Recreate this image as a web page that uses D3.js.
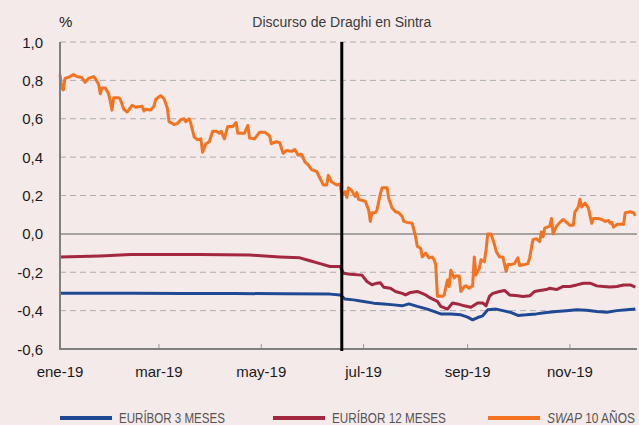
<!DOCTYPE html>
<html>
<head>
<meta charset="utf-8">
<script src="https://cdn.jsdelivr.net/npm/d3@7"></script>
<style>
    body { margin: 0; background: #f5eaea; }
    svg { display: block; font-family: "Liberation Sans", Arial, sans-serif; }
    .axis-label { font-size: 15px; fill: #1a1a1a; }
    .chart-title { font-size: 14px; fill: #3a3a3a; }
    .legend-text { font-size: 15px; fill: #555; }
</style>
</head>
<body>
<div id="sintra-chart"></div>
<script>

// Data
var yTicks = [-0.6, -0.4, -0.2, 0.0, 0.2, 0.4, 0.6, 0.8, 1.0];
var xTickDates = ['01-01', '03-01', '05-01', '07-01', '09-01', '11-01'];
var xTickLabels = ['ene-19', 'mar-19', 'may-19', 'jul-19', 'sep-19', 'nov-19'];
var eventDate = '06-18';
var eventLabel = 'Discurso de Draghi en Sintra';
var seriesNames = ['EURÍBOR 3 MESES', 'EURÍBOR 12 MESES', 'SWAP 10 AÑOS'];

var euribor3Dates = ['01-01', '02-15', '03-15', '04-15', '05-15', '06-11', '06-17', '06-20', '06-25', '07-01',
    '07-07', '07-13', '07-19', '07-24', '07-28', '08-02', '08-08', '08-16', '08-22', '08-28', '09-01', '09-04',
    '09-07', '09-10', '09-13', '09-18', '09-22', '09-27', '10-01', '10-06', '10-12', '10-18', '10-24', '10-30',
    '11-05', '11-11', '11-17', '11-23', '11-29', '12-05', '12-10'];
var euribor3Values = [-0.309, -0.310, -0.311, -0.311, -0.312, -0.314, -0.318, -0.340, -0.344, -0.352,
    -0.361, -0.365, -0.370, -0.375, -0.365, -0.378, -0.392, -0.417, -0.418, -0.422, -0.434, -0.448,
    -0.436, -0.427, -0.396, -0.392, -0.400, -0.410, -0.425, -0.422, -0.417, -0.410, -0.405, -0.401,
    -0.396, -0.398, -0.405, -0.408, -0.400, -0.396, -0.392];

var euribor12Dates = ['01-01', '01-25', '02-12', '03-25', '04-24', '05-12', '05-24', '05-30', '06-05', '06-11',
    '06-17', '06-19', '06-23', '06-30', '07-03', '07-06', '07-09', '07-11', '07-13', '07-17', '07-20', '07-24',
    '07-26', '07-29', '08-02', '08-07', '08-10', '08-14', '08-16', '08-20', '08-23', '08-26', '08-30', '09-03',
    '09-07', '09-10', '09-12', '09-14', '09-16', '09-20', '09-23', '09-26', '10-01', '10-04', '10-08', '10-11',
    '10-14', '10-18', '10-20', '10-24', '10-28', '11-01', '11-05', '11-09', '11-13', '11-17', '11-21', '11-25',
    '11-29', '12-03', '12-07', '12-10'];
var euribor12Values = [-0.120, -0.115, -0.108, -0.108, -0.110, -0.120, -0.125, -0.140, -0.155, -0.170,
    -0.170, -0.205, -0.210, -0.215, -0.248, -0.265, -0.257, -0.255, -0.278, -0.283, -0.300, -0.310,
    -0.318, -0.305, -0.300, -0.318, -0.335, -0.352, -0.378, -0.392, -0.360, -0.365, -0.375, -0.382,
    -0.360, -0.360, -0.375, -0.326, -0.310, -0.300, -0.295, -0.318, -0.323, -0.326, -0.323, -0.300,
    -0.295, -0.290, -0.283, -0.290, -0.274, -0.274, -0.266, -0.257, -0.257, -0.271, -0.274, -0.277,
    -0.274, -0.266, -0.266, -0.277];

var swapDates = ['01-01', '01-02', '01-03', '01-04', '01-07', '01-09', '01-11', '01-14', '01-16', '01-18',
    '01-21', '01-22', '01-24', '01-25', '01-26', '01-28', '01-30', '01-31', '02-01', '02-02', '02-05', '02-06',
    '02-08', '02-10', '02-13', '02-15', '02-19', '02-20', '02-21', '02-24', '02-26', '02-27', '03-02', '03-04',
    '03-06', '03-07', '03-10', '03-12', '03-14', '03-16', '03-17', '03-19', '03-20', '03-22', '03-24', '03-26',
    '03-27', '03-29', '03-31', '04-02', '04-04', '04-06', '04-07', '04-09', '04-11', '04-14', '04-16', '04-17',
    '04-21', '04-23', '04-24', '04-27', '04-30', '05-03', '05-06', '05-07', '05-10', '05-12', '05-14', '05-16',
    '05-19', '05-21', '05-23', '05-25', '05-27', '05-29', '05-31', '06-03', '06-05', '06-07', '06-09', '06-10',
    '06-12', '06-15', '06-17', '06-18', '06-20', '06-21', '06-22', '06-24', '06-26', '06-27', '06-28', '07-02',
    '07-04', '07-05', '07-06', '07-08', '07-09', '07-11', '07-12', '07-15', '07-16', '07-18', '07-20', '07-22',
    '07-24', '07-25', '07-27', '07-30', '07-31', '08-01', '08-02', '08-04', '08-05', '08-07', '08-09', '08-11',
    '08-12', '08-13', '08-14', '08-17', '08-18', '08-20', '08-21', '08-22', '08-24', '08-25', '08-27', '08-28',
    '08-30', '08-31', '09-02', '09-04', '09-05', '09-06', '09-08', '09-09', '09-11', '09-12', '09-13', '09-15',
    '09-17', '09-18', '09-20', '09-22', '09-24', '09-25', '09-27', '09-29', '10-01', '10-02', '10-05', '10-07',
    '10-08', '10-10', '10-12', '10-14', '10-15', '10-16', '10-17', '10-20', '10-21', '10-22', '10-24', '10-26',
    '10-28', '10-30', '11-01', '11-03', '11-04', '11-06', '11-07', '11-08', '11-10', '11-12', '11-14', '11-15',
    '11-18', '11-20', '11-22', '11-24', '11-25', '11-26', '11-27', '11-29', '12-03', '12-04', '12-07', '12-09',
    '12-10'];
var swapValues = [0.83, 0.76, 0.75, 0.81, 0.82, 0.83, 0.82, 0.815, 0.79, 0.81,
    0.82, 0.81, 0.78, 0.73, 0.76, 0.76, 0.73, 0.69, 0.645, 0.71, 0.71, 0.70,
    0.65, 0.635, 0.67, 0.66, 0.665, 0.64, 0.65, 0.645, 0.665, 0.70, 0.72, 0.705,
    0.655, 0.585, 0.57, 0.575, 0.595, 0.60, 0.585, 0.60, 0.575, 0.505, 0.49, 0.495,
    0.425, 0.47, 0.48, 0.535, 0.535, 0.525, 0.535, 0.495, 0.56, 0.56, 0.58, 0.525,
    0.525, 0.565, 0.50, 0.495, 0.53, 0.53, 0.51, 0.47, 0.48, 0.475, 0.42, 0.435,
    0.43, 0.44, 0.41, 0.415, 0.375, 0.36, 0.335, 0.325, 0.29, 0.255, 0.255, 0.305,
    0.27, 0.255, 0.26, 0.20, 0.22, 0.19, 0.24, 0.225, 0.195, 0.215, 0.18, 0.17,
    0.125, 0.065, 0.11, 0.11, 0.125, 0.21, 0.24, 0.24, 0.185, 0.135, 0.115, 0.11,
    0.09, 0.065, 0.06, 0.055, 0.02, -0.015, -0.065, -0.075, -0.12, -0.10, -0.125, -0.12,
    -0.135, -0.16, -0.325, -0.325, -0.32, -0.24, -0.275, -0.19, -0.23, -0.22, -0.22, -0.30,
    -0.275, -0.27, -0.283, -0.27, -0.12, -0.215, -0.18, -0.135, -0.145, -0.085, 0.0, 0.0,
    -0.055, -0.09, -0.12, -0.12, -0.195, -0.16, -0.16, -0.155, -0.125, -0.165, -0.16, -0.155,
    -0.125, -0.03, -0.025, -0.04, 0.01, -0.015, 0.03, 0.04, 0.08, 0.0, 0.04, 0.06,
    0.075, 0.06, 0.045, 0.045, 0.115, 0.14, 0.18, 0.14, 0.16, 0.135, 0.055, 0.08,
    0.08, 0.075, 0.065, 0.07, 0.055, 0.06, 0.035, 0.05, 0.05, 0.11, 0.115, 0.11,
    0.095];

var parseDate = d3.utcParse('%Y-%m-%d');
function toDate(s) { return parseDate('2019-' + s); }

function zipSeries(dates, values) {
    return dates.map(function(d, i) {
        return { date: toDate(d), value: values[i] };
    });
}

/**
 * SintraChart
 * @param _parentElement -- the HTML element in which to draw the visualization
 */
SintraChart = function(_parentElement) {
    this.parentElement = _parentElement;
    this.series = [
        { name: seriesNames[0], color: '#1f4a93', data: zipSeries(euribor3Dates, euribor3Values) },
        { name: seriesNames[1], color: '#a3283f', data: zipSeries(euribor12Dates, euribor12Values) },
        { name: seriesNames[2], color: '#f37321', data: zipSeries(swapDates, swapValues) }
    ];

    this.initVisualization();
}

SintraChart.prototype.initVisualization = function() {
    var vis = this;

    vis.margin = { top: 42, right: 2, bottom: 76, left: 60 };
    vis.width = 639 - vis.margin.left - vis.margin.right;
    vis.height = 425 - vis.margin.top - vis.margin.bottom;

    vis.svg = d3.select('#' + vis.parentElement)
        .append('svg')
        .attr('width', 639)
        .attr('height', 425)
        .append('g')
        .attr('transform', 'translate(' + vis.margin.left + ',' + vis.margin.top + ')');

    // Scales
    vis.x = d3.scaleUtc()
        .domain([toDate('01-01'), toDate('12-11')])
        .range([0, vis.width]);

    vis.y = d3.scaleLinear()
        .domain([-0.6, 1.0])
        .range([vis.height, 0]);

    var fmt = function(v) { return d3.format('.1f')(v).replace('.', ',').replace('−', '-'); };

    // Grid lines
    vis.svg.selectAll('.grid')
        .data(yTicks.filter(function(t) { return t !== -0.6; }))
        .enter()
        .append('line')
        .attr('x1', 0)
        .attr('x2', vis.width)
        .attr('y1', function(d) { return vis.y(d); })
        .attr('y2', function(d) { return vis.y(d); })
        .attr('stroke', function(d) { return d === 0 ? '#8a8a8a' : '#adadad'; })
        .attr('stroke-width', function(d) { return d === 0 ? 1.5 : 1; })
        .attr('stroke-dasharray', function(d) { return d === 0 ? null : '6,4'; });

    // Y tick labels
    vis.svg.selectAll('.y-label')
        .data(yTicks)
        .enter()
        .append('text')
        .attr('class', 'axis-label y-label')
        .attr('x', -17)
        .attr('y', function(d) { return vis.y(d) + 5.5; })
        .attr('text-anchor', 'end')
        .text(function(d) { return fmt(d); });

    vis.svg.append('text')
        .attr('class', 'axis-label')
        .attr('x', -1)
        .attr('y', -15)
        .text('%');

    // X axis
    vis.svg.selectAll('.x-tick')
        .data(xTickDates.slice(1))
        .enter()
        .append('line')
        .attr('x1', function(d) { return vis.x(toDate(d)); })
        .attr('x2', function(d) { return vis.x(toDate(d)); })
        .attr('y1', vis.height)
        .attr('y2', vis.height - 5)
        .attr('stroke', '#9a9a9a')
        .attr('stroke-width', 1);

    vis.svg.selectAll('.x-label')
        .data(xTickDates)
        .enter()
        .append('text')
        .attr('class', 'axis-label x-label')
        .attr('x', function(d) { return vis.x(toDate(d)); })
        .attr('y', vis.height + 28)
        .attr('text-anchor', 'middle')
        .text(function(d, i) { return xTickLabels[i]; });

    // Lines
    vis.line = d3.line()
        .x(function(d) { return vis.x(d.date); })
        .y(function(d) { return vis.y(d.value); });

    vis.svg.selectAll('.series')
        .data(vis.series)
        .enter()
        .append('path')
        .attr('fill', 'none')
        .attr('stroke', function(d) { return d.color; })
        .attr('stroke-width', 3)
        .attr('stroke-linejoin', 'round')
        .attr('d', function(d) { return vis.line(d.data); });

    // Axis lines
    vis.svg.append('line')
        .attr('x1', 0).attr('x2', 0)
        .attr('y1', 0).attr('y2', vis.height)
        .attr('stroke', '#7f7f7f')
        .attr('stroke-width', 2);

    vis.svg.append('line')
        .attr('x1', -1).attr('x2', vis.width)
        .attr('y1', vis.height).attr('y2', vis.height)
        .attr('stroke', '#7f7f7f')
        .attr('stroke-width', 2);

    // Event line
    var ex = vis.x(toDate(eventDate));
    vis.svg.append('line')
        .attr('x1', ex).attr('x2', ex)
        .attr('y1', 0).attr('y2', vis.height + 2)
        .attr('stroke', '#000')
        .attr('stroke-width', 3);

    vis.svg.append('text')
        .attr('class', 'chart-title')
        .attr('x', ex)
        .attr('y', -15.5)
        .attr('text-anchor', 'middle')
        .text(eventLabel);

    // Legend (the original uses a condensed face, so each label is squeezed horizontally)
    var legendX = [0, 213, 428];
    var legendWidths = [106, 114, 88];
    var legend = vis.svg.selectAll('.legend')
        .data(vis.series)
        .enter()
        .append('g')
        .attr('transform', function(d, i) { return 'translate(' + legendX[i] + ',' + (vis.height + 69) + ')'; });

    legend.append('line')
        .attr('x1', 0).attr('x2', 52)
        .attr('y1', 0).attr('y2', 0)
        .attr('stroke', function(d) { return d.color; })
        .attr('stroke-width', 4);

    legend.each(function(d, i) {
        var label = d3.select(this).append('g');
        if (d.name.indexOf('SWAP') === 0) {
            var first = label.append('text')
                .attr('class', 'legend-text')
                .attr('font-style', 'italic')
                .attr('y', 5)
                .text('SWAP');
            var w0 = first.node().getComputedTextLength();
            label.append('text')
                .attr('class', 'legend-text')
                .attr('x', w0 + 4)
                .attr('y', 5)
                .text(d.name.slice(5));
        } else {
            label.append('text')
                .attr('class', 'legend-text')
                .attr('y', 5)
                .text(d.name);
        }
        var natural = label.node().getBBox().width;
        label.attr('transform', 'translate(59,0) scale(' + (legendWidths[i] / natural) + ',1)');
    });
}

new SintraChart('sintra-chart');

</script>
</body>
</html>
